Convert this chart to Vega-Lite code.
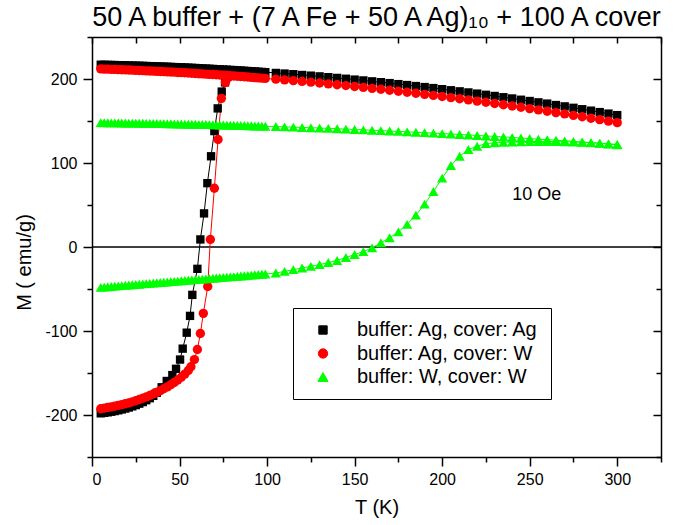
{
"$schema": "https://vega.github.io/schema/vega-lite/v6.json",
"width": 569,
"height": 420,
"autosize": "none",
"padding": {"left": 92, "top": 37, "right": 15, "bottom": 68},
"title": {"text": "50 A buffer + (7 A Fe + 50 A Ag)₁₀ + 100 A cover", "fontSize": 27, "fontWeight": "normal", "font": "Liberation Sans", "color": "black", "anchor": "middle", "offset": 4},
"config": {
  "font": "Liberation Sans",
  "view": {"stroke": null},
  "axis": {"grid": false, "domainColor": "black", "domainWidth": 1.5, "tickColor": "black", "tickWidth": 1.5, "labelFontSize": 16, "labelColor": "black", "labelFont": "Liberation Sans", "titleFontSize": 20, "titleFontWeight": "normal", "titleColor": "black", "titleFont": "Liberation Sans"}
},
"data": {"values": [
{"s":"A","b":"F","T":5,"M":217.0},{"s":"A","b":"F","T":7,"M":216.9},{"s":"A","b":"F","T":9,"M":216.8},{"s":"A","b":"F","T":11,"M":216.7},{"s":"A","b":"F","T":13,"M":216.6},{"s":"A","b":"F","T":15,"M":216.5},{"s":"A","b":"F","T":17,"M":216.4},{"s":"A","b":"F","T":19,"M":216.3},{"s":"A","b":"F","T":21,"M":216.1},{"s":"A","b":"F","T":23,"M":216.0},{"s":"A","b":"F","T":25,"M":215.9},{"s":"A","b":"F","T":27,"M":215.8},{"s":"A","b":"F","T":29,"M":215.6},{"s":"A","b":"F","T":31,"M":215.5},{"s":"A","b":"F","T":33,"M":215.3},{"s":"A","b":"F","T":35,"M":215.2},{"s":"A","b":"F","T":37,"M":215.0},{"s":"A","b":"F","T":39,"M":214.9},{"s":"A","b":"F","T":41,"M":214.7},{"s":"A","b":"F","T":43,"M":214.6},{"s":"A","b":"F","T":45,"M":214.4},{"s":"A","b":"F","T":47,"M":214.2},{"s":"A","b":"F","T":49,"M":214.0},{"s":"A","b":"F","T":51,"M":213.9},{"s":"A","b":"F","T":53,"M":213.7},{"s":"A","b":"F","T":55,"M":213.5},{"s":"A","b":"F","T":57,"M":213.3},{"s":"A","b":"F","T":59,"M":213.1},{"s":"A","b":"F","T":61,"M":212.8},{"s":"A","b":"F","T":63,"M":212.6},{"s":"A","b":"F","T":65,"M":212.4},{"s":"A","b":"F","T":67,"M":212.2},{"s":"A","b":"F","T":69,"M":212.0},{"s":"A","b":"F","T":71,"M":211.7},{"s":"A","b":"F","T":73,"M":211.5},{"s":"A","b":"F","T":75,"M":211.3},{"s":"A","b":"F","T":77,"M":211.1},{"s":"A","b":"F","T":79,"M":210.8},{"s":"A","b":"F","T":81,"M":210.6},{"s":"A","b":"F","T":83,"M":210.3},{"s":"A","b":"F","T":85,"M":210.1},{"s":"A","b":"F","T":87,"M":209.8},{"s":"A","b":"F","T":89,"M":209.5},{"s":"A","b":"F","T":91,"M":209.3},{"s":"A","b":"F","T":93,"M":209.0},{"s":"A","b":"F","T":95,"M":208.7},{"s":"A","b":"F","T":97,"M":208.4},{"s":"A","b":"F","T":99,"M":208.1},
{"s":"A","b":"F","T":105,"M":207.2},{"s":"A","b":"F","T":110,"M":206.5},{"s":"A","b":"F","T":115,"M":205.7},{"s":"A","b":"F","T":120,"M":204.8},{"s":"A","b":"F","T":125,"M":204.0},{"s":"A","b":"F","T":130,"M":203.1},{"s":"A","b":"F","T":135,"M":202.2},{"s":"A","b":"F","T":140,"M":201.3},{"s":"A","b":"F","T":145,"M":200.3},{"s":"A","b":"F","T":150,"M":199.3},{"s":"A","b":"F","T":155,"M":198.3},{"s":"A","b":"F","T":160,"M":197.2},{"s":"A","b":"F","T":165,"M":196.2},{"s":"A","b":"F","T":170,"M":195.1},{"s":"A","b":"F","T":175,"M":193.9},{"s":"A","b":"F","T":180,"M":192.8},{"s":"A","b":"F","T":185,"M":191.6},{"s":"A","b":"F","T":190,"M":190.4},{"s":"A","b":"F","T":195,"M":189.2},{"s":"A","b":"F","T":200,"M":187.9},{"s":"A","b":"F","T":205,"M":186.6},{"s":"A","b":"F","T":210,"M":185.3},{"s":"A","b":"F","T":215,"M":184.0},{"s":"A","b":"F","T":220,"M":182.6},{"s":"A","b":"F","T":225,"M":181.2},{"s":"A","b":"F","T":230,"M":179.8},{"s":"A","b":"F","T":235,"M":178.3},{"s":"A","b":"F","T":240,"M":176.8},{"s":"A","b":"F","T":245,"M":175.3},{"s":"A","b":"F","T":250,"M":173.8},{"s":"A","b":"F","T":255,"M":172.2},{"s":"A","b":"F","T":260,"M":170.7},{"s":"A","b":"F","T":265,"M":169.0},{"s":"A","b":"F","T":270,"M":167.4},{"s":"A","b":"F","T":275,"M":165.7},{"s":"A","b":"F","T":280,"M":164.0},{"s":"A","b":"F","T":285,"M":162.3},{"s":"A","b":"F","T":290,"M":160.6},{"s":"A","b":"F","T":295,"M":158.8},{"s":"A","b":"F","T":300,"M":157.0},
{"s":"A","b":"Z","T":5,"M":-198},{"s":"A","b":"Z","T":7,"M":-197.4},{"s":"A","b":"Z","T":9,"M":-196.8},{"s":"A","b":"Z","T":11,"M":-196.1},{"s":"A","b":"Z","T":13,"M":-195.3},{"s":"A","b":"Z","T":15,"M":-194.4},{"s":"A","b":"Z","T":17,"M":-193.4},{"s":"A","b":"Z","T":19,"M":-192.3},{"s":"A","b":"Z","T":21,"M":-191.1},{"s":"A","b":"Z","T":23,"M":-189.7},{"s":"A","b":"Z","T":25,"M":-188.2},{"s":"A","b":"Z","T":27,"M":-186.5},{"s":"A","b":"Z","T":29,"M":-184.6},{"s":"A","b":"Z","T":31,"M":-182.4},{"s":"A","b":"Z","T":33,"M":-180},{"s":"A","b":"Z","T":35,"M":-177.2},{"s":"A","b":"Z","T":37,"M":-173.5},{"s":"A","b":"Z","T":39.8,"M":-167},{"s":"A","b":"Z","T":42.7,"M":-159.5},{"s":"A","b":"Z","T":45.9,"M":-152.5},{"s":"A","b":"Z","T":48,"M":-145},{"s":"A","b":"Z","T":50.3,"M":-134},{"s":"A","b":"Z","T":51.8,"M":-121},{"s":"A","b":"Z","T":54.1,"M":-102},{"s":"A","b":"Z","T":56,"M":-82},{"s":"A","b":"Z","T":57.3,"M":-57},{"s":"A","b":"Z","T":60.2,"M":-26},{"s":"A","b":"Z","T":61.9,"M":9},{"s":"A","b":"Z","T":64,"M":40},{"s":"A","b":"Z","T":65.9,"M":76},{"s":"A","b":"Z","T":68,"M":108},{"s":"A","b":"Z","T":69.9,"M":138},{"s":"A","b":"Z","T":71.8,"M":165},{"s":"A","b":"Z","T":74.1,"M":185},{"s":"A","b":"Z","T":76,"M":196},{"s":"A","b":"Z","T":78,"M":204},
{"s":"B","b":"F","T":5,"M":212.0},{"s":"B","b":"F","T":7,"M":211.8},{"s":"B","b":"F","T":9,"M":211.7},{"s":"B","b":"F","T":11,"M":211.5},{"s":"B","b":"F","T":13,"M":211.4},{"s":"B","b":"F","T":15,"M":211.2},{"s":"B","b":"F","T":17,"M":211.0},{"s":"B","b":"F","T":19,"M":210.8},{"s":"B","b":"F","T":21,"M":210.7},{"s":"B","b":"F","T":23,"M":210.5},{"s":"B","b":"F","T":25,"M":210.3},{"s":"B","b":"F","T":27,"M":210.1},{"s":"B","b":"F","T":29,"M":209.9},{"s":"B","b":"F","T":31,"M":209.7},{"s":"B","b":"F","T":33,"M":209.5},{"s":"B","b":"F","T":35,"M":209.3},{"s":"B","b":"F","T":37,"M":209.1},{"s":"B","b":"F","T":39,"M":208.9},{"s":"B","b":"F","T":41,"M":208.7},{"s":"B","b":"F","T":43,"M":208.5},{"s":"B","b":"F","T":45,"M":208.3},{"s":"B","b":"F","T":47,"M":208.1},{"s":"B","b":"F","T":49,"M":207.8},{"s":"B","b":"F","T":51,"M":207.6},{"s":"B","b":"F","T":53,"M":207.4},{"s":"B","b":"F","T":55,"M":207.1},{"s":"B","b":"F","T":57,"M":206.8},{"s":"B","b":"F","T":59,"M":206.6},{"s":"B","b":"F","T":61,"M":206.3},{"s":"B","b":"F","T":63,"M":206.1},{"s":"B","b":"F","T":65,"M":205.8},{"s":"B","b":"F","T":67,"M":205.5},{"s":"B","b":"F","T":69,"M":205.3},{"s":"B","b":"F","T":71,"M":205.0},{"s":"B","b":"F","T":73,"M":204.8},{"s":"B","b":"F","T":75,"M":204.5},{"s":"B","b":"F","T":77,"M":204.2},{"s":"B","b":"F","T":79,"M":203.9},{"s":"B","b":"F","T":81,"M":203.6},{"s":"B","b":"F","T":83,"M":203.3},{"s":"B","b":"F","T":85,"M":203.0},{"s":"B","b":"F","T":87,"M":202.7},{"s":"B","b":"F","T":89,"M":202.4},{"s":"B","b":"F","T":91,"M":202.0},{"s":"B","b":"F","T":93,"M":201.7},{"s":"B","b":"F","T":95,"M":201.4},{"s":"B","b":"F","T":97,"M":201.1},{"s":"B","b":"F","T":99,"M":200.7},
{"s":"B","b":"F","T":105,"M":199.8},{"s":"B","b":"F","T":110,"M":198.9},{"s":"B","b":"F","T":115,"M":198.0},{"s":"B","b":"F","T":120,"M":197.1},{"s":"B","b":"F","T":125,"M":196.2},{"s":"B","b":"F","T":130,"M":195.2},{"s":"B","b":"F","T":135,"M":194.2},{"s":"B","b":"F","T":140,"M":193.2},{"s":"B","b":"F","T":145,"M":192.2},{"s":"B","b":"F","T":150,"M":191.1},{"s":"B","b":"F","T":155,"M":190.0},{"s":"B","b":"F","T":160,"M":188.9},{"s":"B","b":"F","T":165,"M":187.8},{"s":"B","b":"F","T":170,"M":186.6},{"s":"B","b":"F","T":175,"M":185.4},{"s":"B","b":"F","T":180,"M":184.2},{"s":"B","b":"F","T":185,"M":183.0},{"s":"B","b":"F","T":190,"M":181.7},{"s":"B","b":"F","T":195,"M":180.5},{"s":"B","b":"F","T":200,"M":179.2},{"s":"B","b":"F","T":205,"M":177.8},{"s":"B","b":"F","T":210,"M":176.5},{"s":"B","b":"F","T":215,"M":175.1},{"s":"B","b":"F","T":220,"M":173.7},{"s":"B","b":"F","T":225,"M":172.3},{"s":"B","b":"F","T":230,"M":170.8},{"s":"B","b":"F","T":235,"M":169.4},{"s":"B","b":"F","T":240,"M":167.9},{"s":"B","b":"F","T":245,"M":166.4},{"s":"B","b":"F","T":250,"M":164.8},{"s":"B","b":"F","T":255,"M":163.2},{"s":"B","b":"F","T":260,"M":161.6},{"s":"B","b":"F","T":265,"M":160.0},{"s":"B","b":"F","T":270,"M":158.4},{"s":"B","b":"F","T":275,"M":156.7},{"s":"B","b":"F","T":280,"M":155.0},{"s":"B","b":"F","T":285,"M":153.3},{"s":"B","b":"F","T":290,"M":151.6},{"s":"B","b":"F","T":295,"M":149.8},{"s":"B","b":"F","T":300,"M":148.0},
{"s":"B","b":"Z","T":5,"M":-192.5},{"s":"B","b":"Z","T":7,"M":-191.8},{"s":"B","b":"Z","T":9,"M":-191.1},{"s":"B","b":"Z","T":11,"M":-190.3},{"s":"B","b":"Z","T":13,"M":-189.5},{"s":"B","b":"Z","T":15,"M":-188.6},{"s":"B","b":"Z","T":17,"M":-187.6},{"s":"B","b":"Z","T":19,"M":-186.6},{"s":"B","b":"Z","T":21,"M":-185.5},{"s":"B","b":"Z","T":23,"M":-184.3},{"s":"B","b":"Z","T":25,"M":-183},{"s":"B","b":"Z","T":27,"M":-181.6},{"s":"B","b":"Z","T":29,"M":-180.1},{"s":"B","b":"Z","T":31,"M":-178.5},{"s":"B","b":"Z","T":33,"M":-176.8},{"s":"B","b":"Z","T":35,"M":-175},{"s":"B","b":"Z","T":37,"M":-173},{"s":"B","b":"Z","T":39,"M":-171},{"s":"B","b":"Z","T":41,"M":-168.8},{"s":"B","b":"Z","T":43,"M":-166.5},{"s":"B","b":"Z","T":45,"M":-164},{"s":"B","b":"Z","T":47,"M":-161.3},{"s":"B","b":"Z","T":49,"M":-158.3},{"s":"B","b":"Z","T":51,"M":-155},{"s":"B","b":"Z","T":53,"M":-151.3},{"s":"B","b":"Z","T":55,"M":-147},{"s":"B","b":"Z","T":56.5,"M":-142.5},{"s":"B","b":"Z","T":58.5,"M":-134},{"s":"B","b":"Z","T":60.2,"M":-122},{"s":"B","b":"Z","T":61.9,"M":-103},{"s":"B","b":"Z","T":63.6,"M":-79},{"s":"B","b":"Z","T":66.1,"M":-47},{"s":"B","b":"Z","T":67.6,"M":9},{"s":"B","b":"Z","T":69.9,"M":70},{"s":"B","b":"Z","T":72,"M":128},{"s":"B","b":"Z","T":73.9,"M":177},{"s":"B","b":"Z","T":76.2,"M":196},{"s":"B","b":"Z","T":78,"M":202},
{"s":"C","b":"F","T":5,"M":148.0},{"s":"C","b":"F","T":7,"M":147.9},{"s":"C","b":"F","T":9,"M":147.9},{"s":"C","b":"F","T":11,"M":147.8},{"s":"C","b":"F","T":13,"M":147.8},{"s":"C","b":"F","T":15,"M":147.7},{"s":"C","b":"F","T":17,"M":147.6},{"s":"C","b":"F","T":19,"M":147.6},{"s":"C","b":"F","T":21,"M":147.5},{"s":"C","b":"F","T":23,"M":147.5},{"s":"C","b":"F","T":25,"M":147.4},{"s":"C","b":"F","T":27,"M":147.3},{"s":"C","b":"F","T":29,"M":147.3},{"s":"C","b":"F","T":31,"M":147.2},{"s":"C","b":"F","T":33,"M":147.2},{"s":"C","b":"F","T":35,"M":147.1},{"s":"C","b":"F","T":37,"M":147.0},{"s":"C","b":"F","T":39,"M":146.9},{"s":"C","b":"F","T":41,"M":146.9},{"s":"C","b":"F","T":43,"M":146.8},{"s":"C","b":"F","T":45,"M":146.7},{"s":"C","b":"F","T":47,"M":146.6},{"s":"C","b":"F","T":49,"M":146.5},{"s":"C","b":"F","T":51,"M":146.4},{"s":"C","b":"F","T":53,"M":146.3},{"s":"C","b":"F","T":55,"M":146.2},{"s":"C","b":"F","T":57,"M":146.1},{"s":"C","b":"F","T":59,"M":146.1},{"s":"C","b":"F","T":61,"M":146.0},{"s":"C","b":"F","T":63,"M":145.9},{"s":"C","b":"F","T":65,"M":145.8},{"s":"C","b":"F","T":67,"M":145.7},{"s":"C","b":"F","T":69,"M":145.6},{"s":"C","b":"F","T":71,"M":145.4},{"s":"C","b":"F","T":73,"M":145.3},{"s":"C","b":"F","T":75,"M":145.2},{"s":"C","b":"F","T":77,"M":145.1},{"s":"C","b":"F","T":79,"M":145.0},{"s":"C","b":"F","T":81,"M":144.9},{"s":"C","b":"F","T":83,"M":144.8},{"s":"C","b":"F","T":85,"M":144.7},{"s":"C","b":"F","T":87,"M":144.6},{"s":"C","b":"F","T":89,"M":144.4},{"s":"C","b":"F","T":91,"M":144.3},{"s":"C","b":"F","T":93,"M":144.1},{"s":"C","b":"F","T":95,"M":144.0},{"s":"C","b":"F","T":97,"M":143.9},{"s":"C","b":"F","T":99,"M":143.7},
{"s":"C","b":"F","T":105,"M":143.4},{"s":"C","b":"F","T":110,"M":143.0},{"s":"C","b":"F","T":115,"M":142.7},{"s":"C","b":"F","T":120,"M":142.3},{"s":"C","b":"F","T":125,"M":142.0},{"s":"C","b":"F","T":130,"M":141.6},{"s":"C","b":"F","T":135,"M":141.2},{"s":"C","b":"F","T":140,"M":140.8},{"s":"C","b":"F","T":145,"M":140.3},{"s":"C","b":"F","T":150,"M":139.9},{"s":"C","b":"F","T":155,"M":139.5},{"s":"C","b":"F","T":160,"M":139.0},{"s":"C","b":"F","T":165,"M":138.6},{"s":"C","b":"F","T":170,"M":138.1},{"s":"C","b":"F","T":175,"M":137.6},{"s":"C","b":"F","T":180,"M":137.1},{"s":"C","b":"F","T":185,"M":136.6},{"s":"C","b":"F","T":190,"M":136.1},{"s":"C","b":"F","T":195,"M":135.6},{"s":"C","b":"F","T":200,"M":135.0},{"s":"C","b":"F","T":205,"M":134.5},{"s":"C","b":"F","T":210,"M":133.9},{"s":"C","b":"F","T":215,"M":133.4},{"s":"C","b":"F","T":220,"M":132.8},{"s":"C","b":"F","T":225,"M":132.2},{"s":"C","b":"F","T":230,"M":131.6},{"s":"C","b":"F","T":235,"M":131.0},{"s":"C","b":"F","T":240,"M":130.4},{"s":"C","b":"F","T":245,"M":129.7},{"s":"C","b":"F","T":250,"M":129.1},{"s":"C","b":"F","T":255,"M":128.4},{"s":"C","b":"F","T":260,"M":127.8},{"s":"C","b":"F","T":265,"M":127.1},{"s":"C","b":"F","T":270,"M":126.4},{"s":"C","b":"F","T":275,"M":125.7},{"s":"C","b":"F","T":280,"M":125.0},{"s":"C","b":"F","T":285,"M":124.3},{"s":"C","b":"F","T":290,"M":123.5},{"s":"C","b":"F","T":295,"M":122.8},{"s":"C","b":"F","T":300,"M":122.0},
{"s":"C","b":"Z","T":5,"M":-48.0},{"s":"C","b":"Z","T":7,"M":-47.7},{"s":"C","b":"Z","T":9,"M":-47.3},{"s":"C","b":"Z","T":11,"M":-47.0},{"s":"C","b":"Z","T":13,"M":-46.6},{"s":"C","b":"Z","T":15,"M":-46.3},{"s":"C","b":"Z","T":17,"M":-46.0},{"s":"C","b":"Z","T":19,"M":-45.6},{"s":"C","b":"Z","T":21,"M":-45.3},{"s":"C","b":"Z","T":23,"M":-45.0},{"s":"C","b":"Z","T":25,"M":-44.6},{"s":"C","b":"Z","T":27,"M":-44.3},{"s":"C","b":"Z","T":29,"M":-43.9},{"s":"C","b":"Z","T":31,"M":-43.6},{"s":"C","b":"Z","T":33,"M":-43.3},{"s":"C","b":"Z","T":35,"M":-42.9},{"s":"C","b":"Z","T":37,"M":-42.6},{"s":"C","b":"Z","T":39,"M":-42.3},{"s":"C","b":"Z","T":41,"M":-41.9},{"s":"C","b":"Z","T":43,"M":-41.6},{"s":"C","b":"Z","T":45,"M":-41.2},{"s":"C","b":"Z","T":47,"M":-40.9},{"s":"C","b":"Z","T":49,"M":-40.6},{"s":"C","b":"Z","T":51,"M":-40.2},{"s":"C","b":"Z","T":53,"M":-39.9},{"s":"C","b":"Z","T":55,"M":-39.6},{"s":"C","b":"Z","T":57,"M":-39.2},{"s":"C","b":"Z","T":59,"M":-38.9},{"s":"C","b":"Z","T":61,"M":-38.5},{"s":"C","b":"Z","T":63,"M":-38.2},{"s":"C","b":"Z","T":65,"M":-37.9},{"s":"C","b":"Z","T":67,"M":-37.5},{"s":"C","b":"Z","T":69,"M":-37.2},{"s":"C","b":"Z","T":71,"M":-36.9},{"s":"C","b":"Z","T":73,"M":-36.5},{"s":"C","b":"Z","T":75,"M":-36.2},{"s":"C","b":"Z","T":77,"M":-35.8},{"s":"C","b":"Z","T":79,"M":-35.5},{"s":"C","b":"Z","T":81,"M":-35.2},{"s":"C","b":"Z","T":83,"M":-34.8},{"s":"C","b":"Z","T":85,"M":-34.5},{"s":"C","b":"Z","T":87,"M":-34.2},{"s":"C","b":"Z","T":89,"M":-33.8},{"s":"C","b":"Z","T":91,"M":-33.5},{"s":"C","b":"Z","T":93,"M":-33.1},{"s":"C","b":"Z","T":95,"M":-32.8},{"s":"C","b":"Z","T":97,"M":-32.5},{"s":"C","b":"Z","T":99,"M":-32.1},
{"s":"C","b":"Z","T":105,"M":-31},{"s":"C","b":"Z","T":110,"M":-29},{"s":"C","b":"Z","T":115,"M":-27},{"s":"C","b":"Z","T":120,"M":-25},{"s":"C","b":"Z","T":125,"M":-23},{"s":"C","b":"Z","T":130,"M":-21},{"s":"C","b":"Z","T":135,"M":-18.5},{"s":"C","b":"Z","T":140,"M":-16},{"s":"C","b":"Z","T":145,"M":-12.5},{"s":"C","b":"Z","T":150,"M":-9},{"s":"C","b":"Z","T":155,"M":-5.5},{"s":"C","b":"Z","T":160,"M":-1},{"s":"C","b":"Z","T":165,"M":5},{"s":"C","b":"Z","T":170,"M":11},{"s":"C","b":"Z","T":175,"M":18},{"s":"C","b":"Z","T":180,"M":27},{"s":"C","b":"Z","T":185,"M":38},{"s":"C","b":"Z","T":190,"M":51},{"s":"C","b":"Z","T":195,"M":66},{"s":"C","b":"Z","T":200,"M":82},{"s":"C","b":"Z","T":205,"M":97},{"s":"C","b":"Z","T":210,"M":108},{"s":"C","b":"Z","T":215,"M":116},{"s":"C","b":"Z","T":220,"M":120},{"s":"C","b":"Z","T":225,"M":123},{"s":"C","b":"Z","T":230,"M":124},{"s":"C","b":"Z","T":235,"M":124.5},{"s":"C","b":"Z","T":240,"M":125},{"s":"C","b":"Z","T":245,"M":125.3},{"s":"C","b":"Z","T":250,"M":125.5},{"s":"C","b":"Z","T":255,"M":125.6},{"s":"C","b":"Z","T":260,"M":125.6},{"s":"C","b":"Z","T":265,"M":125.5},{"s":"C","b":"Z","T":270,"M":125.3},{"s":"C","b":"Z","T":275,"M":125.0},{"s":"C","b":"Z","T":280,"M":124.5},{"s":"C","b":"Z","T":285,"M":124.0},{"s":"C","b":"Z","T":290,"M":123.3},{"s":"C","b":"Z","T":295,"M":122.6},{"s":"C","b":"Z","T":300,"M":121.8}
]},
"resolve": {"axis": {"x": "independent", "y": "independent"}},
"layer": [
  {
    "data": {"values": [{}]},
    "mark": {"type": "rule", "color": "black", "strokeWidth": 1.5},
    "encoding": {"y": {"datum": 0, "type": "quantitative", "axis": null}}
  },
  {
    "mark": {"type": "line", "strokeWidth": 1},
    "encoding": {
      "x": {"field": "T", "type": "quantitative", "scale": {"domain": [0, 325], "nice": false, "zero": false},
        "axis": {"orient": "bottom", "title": "T (K)", "values": [0,25,50,75,100,125,150,175,200,225,250,275,300,325],
          "tickSize": {"condition": {"test": "datum.value % 50 === 0", "value": 9}, "value": 5},
          "labelExpr": "datum.value % 50 === 0 && datum.value <= 300 ? datum.label : ''", "labelPadding": 5, "titlePadding": 10}},
      "y": {"field": "M", "type": "quantitative", "scale": {"domain": [-250, 250], "nice": false, "zero": false},
        "axis": {"orient": "left", "title": "M ( emu/g)", "titleY": 225, "values": [-250,-200,-150,-100,-50,0,50,100,150,200,250],
          "tickSize": {"condition": {"test": "datum.value % 100 === 0", "value": 9}, "value": 5},
          "labelExpr": "datum.value % 100 === 0 ? (datum.value < 0 ? '-' + abs(datum.value) : '' + datum.value) : ''", "labelPadding": 6, "titlePadding": 10}},
      "color": {"field": "s", "type": "nominal", "scale": {"domain": ["A","B","C"], "range": ["#000000","#ff0000","#00ff00"]}},
      "detail": {"field": "b"}
    }
  },
  {
    "mark": {"type": "point", "filled": true, "opacity": 1, "strokeWidth": 0},
    "encoding": {
      "x": {"field": "T", "type": "quantitative",
        "axis": {"orient": "top", "title": null, "labels": false, "values": [0,25,50,75,100,125,150,175,200,225,250,275,300,325], "tickSize": -6}},
      "y": {"field": "M", "type": "quantitative",
        "axis": {"orient": "right", "title": null, "labels": false, "values": [-250,-200,-150,-100,-50,0,50,100,150,200,250],
          "tickSize": {"condition": {"test": "datum.value % 100 === 0", "value": -8}, "value": -5}}},
      "color": {"field": "s", "type": "nominal",
        "legend": {"orient": "none", "legendX": 201, "legendY": 271, "title": null, "padding": 12,
          "strokeColor": "black", "fillColor": "white",
          "labelFontSize": 20, "labelFont": "Liberation Sans", "labelColor": "black", "labelLimit": 400,
          "symbolSize": 100, "symbolStrokeWidth": 1, "symbolOffset": 8, "labelOffset": 24, "rowPadding": 3.5,
          "labelExpr": "datum.value === 'A' ? 'buffer: Ag, cover: Ag' : datum.value === 'B' ? 'buffer: Ag, cover: W' : 'buffer: W,  cover: W'",
          "encode": {"symbols": {
            "shape": {"value": {"expr": "datum.value === 'A' ? 'M-5.2,0H5.2M-0.9,-0.9H0.9V0.9H-0.9Z' : datum.value === 'B' ? 'M-5.2,0H5.2M-1.2,0A1.2,1.2,0,1,1,1.2,0A1.2,1.2,0,1,1,-1.2,0Z' : 'M-5.2,0H5.2M0,-1.05L1.3,0.85L-1.3,0.85Z'"}},
            "stroke": {"value": {"expr": "datum.value === 'A' ? '#000000' : datum.value === 'B' ? '#ff0000' : '#00ff00'"}},
            "size": {"value": 100},
            "strokeWidth": {"value": 1},
            "opacity": {"value": 1}
          }}}},
      "shape": {"field": "s", "type": "nominal", "scale": {"domain": ["A","B","C"], "range": ["square","circle","triangle-up"]}},
      "size": {"field": "s", "type": "nominal", "scale": {"domain": ["A","B","C"], "range": [70, 105, 100]}}
    }
  },
  {
    "data": {"values": [{}]},
    "mark": {"type": "text", "text": "10 Oe", "fontSize": 18, "font": "Liberation Sans", "color": "black", "align": "center", "baseline": "middle"},
    "encoding": {
      "x": {"datum": 254, "type": "quantitative", "axis": null},
      "y": {"datum": 62, "type": "quantitative", "axis": null}
    }
  }
]
}
